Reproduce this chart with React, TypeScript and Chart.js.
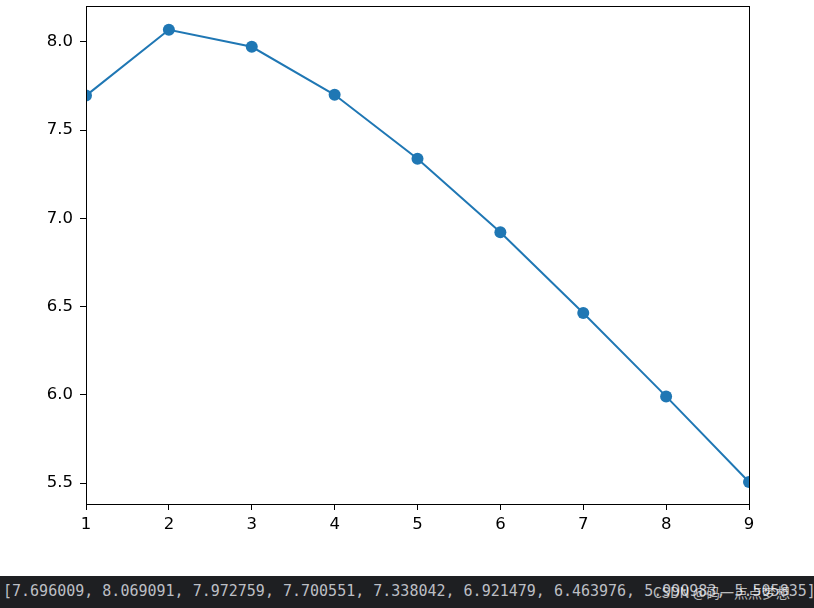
import React, { useEffect, useRef } from "react";
import { Chart, registerables } from "chart.js";

Chart.register(...registerables);

const xValues = [1, 2, 3, 4, 5, 6, 7, 8, 9];
const yValues = [7.696009, 8.069091, 7.972759, 7.700551, 7.338042, 6.921479, 6.463976, 5.990983, 5.505835];
const xTicks = [1, 2, 3, 4, 5, 6, 7, 8, 9];
const yTicks = [5.5, 6.0, 6.5, 7.0, 7.5, 8.0];
const consoleText = "[" + yValues.map((v) => v.toFixed(6)).join(", ") + "]";
const watermark = "CSDN @码一点点梦想";

const framePlugin = {
  id: "frame",
  afterDraw(chart: any) {
    const { ctx, chartArea } = chart;
    ctx.save();
    ctx.strokeStyle = "#000";
    ctx.lineWidth = 1;
    ctx.strokeRect(
      Math.round(chartArea.left) + 0.5,
      Math.round(chartArea.top) + 0.5,
      Math.round(chartArea.right - chartArea.left),
      Math.round(chartArea.bottom - chartArea.top)
    );
    ctx.restore();
  },
};

export default function App() {
  const ref = useRef<HTMLCanvasElement | null>(null);
  useEffect(() => {
    if (!ref.current) return;
    const font = { family: "DejaVu Sans", size: 16.5 };
    const chart = new Chart(ref.current, {
      type: "line",
      data: {
        datasets: [
          {
            data: xValues.map((x, i) => ({ x, y: yValues[i] })),
            borderColor: "#1f77b4",
            backgroundColor: "#1f77b4",
            borderWidth: 2,
            pointRadius: 6,
            pointBorderWidth: 0,
            pointBackgroundColor: "#1f77b4",
            tension: 0,
            clip: 0,
          },
        ],
      },
      options: {
        animation: false,
        responsive: false,
        maintainAspectRatio: false,
        layout: { padding: { top: 6, right: 65, left: 0, bottom: 0 } },
        plugins: { legend: { display: false }, tooltip: { enabled: false } },
        scales: {
          x: {
            type: "linear",
            min: 1,
            max: 9,
            afterBuildTicks: (s: any) => {
              s.ticks = xTicks.map((v) => ({ value: v }));
            },
            afterFit: (s: any) => {
              s.height = 72;
              s.paddingLeft = 0;
              s.paddingRight = 0;
            },
            ticks: { color: "#000", font, padding: 5, callback: (v: any) => String(v), maxRotation: 0, autoSkip: false },
            grid: { drawOnChartArea: false, drawTicks: true, tickLength: 6, color: "#000" },
            border: { color: "#000", width: 1 },
          },
          y: {
            type: "linear",
            min: 5.381,
            max: 8.204,
            afterBuildTicks: (s: any) => {
              s.ticks = yTicks.map((v) => ({ value: v }));
            },
            afterFit: (s: any) => {
              s.width = 86;
              s.paddingTop = 0;
              s.paddingBottom = 0;
            },
            ticks: { color: "#000", font, padding: 7, callback: (v: any) => Number(v).toFixed(1), autoSkip: false },
            grid: { drawOnChartArea: false, drawTicks: true, tickLength: 6, color: "#000" },
            border: { color: "#000", width: 1 },
          },
        },
      },
      plugins: [framePlugin],
    });
    return () => chart.destroy();
  }, []);

  return (
    <div style={{ position: "absolute", left: 0, top: 0, width: 814, height: 608, background: "#fff", overflow: "hidden" }}>
      <canvas ref={ref} width={814} height={576} style={{ display: "block", width: 814, height: 576 }} />
      <div
        style={{
          position: "absolute",
          left: 0,
          top: 576,
          width: 814,
          height: 32,
          background: "#1e1f22",
        }}
      >
        <div
          style={{
            position: "absolute",
            left: 3,
            top: 5,
            fontFamily: "'DejaVu Sans Mono', monospace",
            fontSize: 15,
            lineHeight: "20px",
            color: "#bcbec4",
            whiteSpace: "pre",
          }}
        >
          {consoleText}
        </div>
        <div
          style={{
            position: "absolute",
            left: 653,
            top: 7,
            fontFamily: "'Noto Sans CJK SC', 'Noto Sans', sans-serif",
            fontSize: 14,
            lineHeight: "18px",
            color: "rgba(255,255,255,0.7)",
            whiteSpace: "pre",
          }}
        >
          {watermark}
        </div>
      </div>
    </div>
  );
}
